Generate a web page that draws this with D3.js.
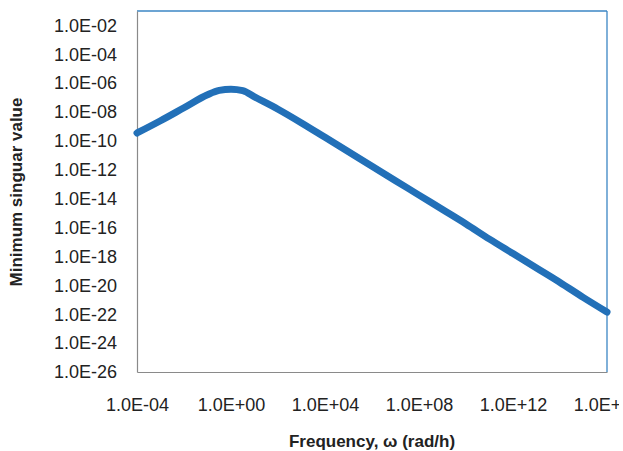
<!DOCTYPE html>
<html>
<head>
<meta charset="utf-8">
<script src="https://cdn.jsdelivr.net/npm/d3@7"></script>
<style>
  body { margin: 0; background: #fff; }
  text { font-family: "Liberation Sans", Arial, sans-serif; fill: #222; }
</style>
</head>
<body>
<script>
  // log10 of frequency (rad/h) and log10 of the minimum singular value
  const logFreq = [-4, -3, -2, -1, -0.5, 0, 0.5, 1, 2, 3, 4, 5, 6, 7, 8, 9, 10, 11, 12, 13, 14, 15, 16];
  const logSigma = [-9.45, -8.6, -7.7, -6.8, -6.5, -6.42, -6.52, -6.95, -7.8, -8.75, -9.75, -10.75, -11.75, -12.75, -13.75, -14.75, -15.75, -16.8, -17.8, -18.8, -19.8, -20.85, -21.85];

  const xTicks = [1e-4, 1e0, 1e4, 1e8, 1e12, 1e16];
  const xTickLabels = ['1.0E-04', '1.0E+00', '1.0E+04', '1.0E+08', '1.0E+12', '1.0E+16'];
  const yTicks = [1e-26, 1e-24, 1e-22, 1e-20, 1e-18, 1e-16, 1e-14, 1e-12, 1e-10, 1e-8, 1e-6, 1e-4, 1e-2];
  const yTickLabels = ['1.0E-26', '1.0E-24', '1.0E-22', '1.0E-20', '1.0E-18', '1.0E-16', '1.0E-14',
    '1.0E-12', '1.0E-10', '1.0E-08', '1.0E-06', '1.0E-04', '1.0E-02'];

  const WIDTH = 623;
  const HEIGHT = 451;
  const LEFT = 137, RIGHT = 607, TOP = 11, BOTTOM = 372;

  const points = logFreq.map((f, i) => ({ x: Math.pow(10, f), y: Math.pow(10, logSigma[i]) }));

  const svg = d3.select('body').append('svg')
    .attr('width', WIDTH)
    .attr('height', HEIGHT);

  const x = d3.scaleLog().domain([1e-4, 1e16]).range([LEFT, RIGHT]);
  const y = d3.scaleLog().domain([1e-26, 1e-1]).range([BOTTOM, TOP]);

  // the last x label is cut short in the original, keep it that way
  svg.append('defs').append('clipPath').attr('id', 'cut')
    .append('rect').attr('x', 0).attr('y', 0).attr('width', 619).attr('height', HEIGHT);

  // plot area frame: blue top/right, grey axes left/bottom
  svg.append('line').attr('x1', LEFT).attr('x2', RIGHT).attr('y1', TOP).attr('y2', TOP)
    .attr('stroke', '#3b86c4').attr('stroke-width', 1.3);
  svg.append('line').attr('x1', RIGHT).attr('x2', RIGHT).attr('y1', TOP).attr('y2', BOTTOM)
    .attr('stroke', '#3b86c4').attr('stroke-width', 1.3);

  const xAxis = d3.axisBottom(x)
    .tickValues(xTicks)
    .tickFormat((d, i) => xTickLabels[i])
    .tickSize(0)
    .tickPadding(26);

  const gx = svg.append('g')
    .attr('transform', `translate(0,${BOTTOM})`)
    .attr('clip-path', 'url(#cut)')
    .call(xAxis);
  gx.select('.domain').attr('stroke', '#8a8a8a').attr('stroke-width', 1.2);
  gx.selectAll('text').attr('font-size', 18).attr('fill', '#1e1e1e')
    .attr('font-family', '"Liberation Sans", Arial, sans-serif');

  const yAxis = d3.axisLeft(y)
    .tickValues(yTicks)
    .tickFormat((d, i) => yTickLabels[i])
    .tickSize(0)
    .tickPadding(20);

  const gy = svg.append('g')
    .attr('transform', `translate(${LEFT},0)`)
    .call(yAxis);
  gy.select('.domain').attr('stroke', '#8a8a8a').attr('stroke-width', 1.2);
  gy.selectAll('text').attr('font-size', 18).attr('fill', '#1e1e1e')
    .attr('font-family', '"Liberation Sans", Arial, sans-serif');

  const line = d3.line()
    .x(d => x(d.x))
    .y(d => y(d.y))
    .curve(d3.curveMonotoneX);

  svg.append('path')
    .datum(points)
    .attr('d', line)
    .attr('fill', 'none')
    .attr('stroke', '#2270b8')
    .attr('stroke-width', 7)
    .attr('stroke-linecap', 'round')
    .attr('stroke-linejoin', 'round');

  svg.append('text')
    .attr('x', 372)
    .attr('y', 447)
    .attr('text-anchor', 'middle')
    .attr('font-size', 17)
    .attr('font-weight', 'bold')
    .text('Frequency, ω (rad/h)');

  svg.append('text')
    .attr('transform', 'translate(22,192) rotate(-90)')
    .attr('text-anchor', 'middle')
    .attr('font-size', 17)
    .attr('font-weight', 'bold')
    .text('Minimum singuar value');
</script>
</body>
</html>
